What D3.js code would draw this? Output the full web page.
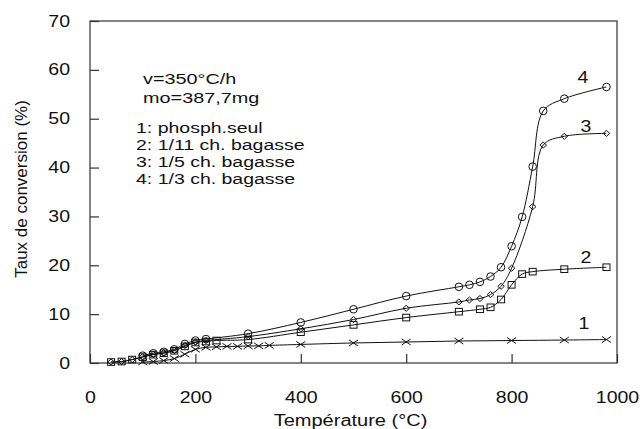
<!DOCTYPE html>
<html>
<head>
<meta charset="utf-8">
<script src="https://cdn.jsdelivr.net/npm/d3@7"></script>
<style>
  body { margin: 0; background: #fff; }
  svg text { font-family: "Liberation Sans", Arial, sans-serif; fill: #111; }
</style>
</head>
<body>
<svg id="chart" width="640" height="429"></svg>
<script>
// series 1: phosph. seul (crosses)
const t1 = [100, 120, 140, 160, 180, 200, 220, 240, 260, 280, 300, 320, 340, 400, 500, 600, 700, 800, 900, 980];
const y1 = [0.2, 0.3, 0.5, 0.9, 1.8, 2.8, 3.2, 3.3, 3.4, 3.4, 3.5, 3.5, 3.6, 3.8, 4.1, 4.3, 4.5, 4.6, 4.7, 4.8];
// series 2: 1/11 ch. bagasse (squares)
const t2 = [40, 60, 80, 100, 120, 140, 160, 180, 200, 220, 240, 300, 400, 500, 600, 700, 740, 760, 780, 800, 820, 840, 900, 980];
const y2 = [0.2, 0.3, 0.7, 1.2, 1.7, 2.0, 2.5, 3.4, 4.2, 4.4, 4.6, 4.8, 6.3, 7.8, 9.3, 10.5, 11.0, 11.4, 13.0, 16.0, 18.2, 18.7, 19.2, 19.6];
// series 3: 1/5 ch. bagasse (diamonds)
const t3 = [40, 60, 80, 100, 120, 140, 160, 180, 200, 220, 300, 400, 500, 600, 700, 720, 740, 760, 780, 800, 840, 860, 900, 980];
const y3 = [0.2, 0.3, 0.7, 1.3, 1.8, 2.1, 2.6, 3.6, 4.3, 4.6, 5.4, 7.0, 8.9, 11.2, 12.5, 12.9, 13.2, 14.0, 15.7, 19.4, 32.0, 44.6, 46.4, 47.0];
// series 4: 1/3 ch. bagasse (circles)
const t4 = [100, 120, 140, 160, 180, 200, 220, 300, 400, 500, 600, 700, 720, 740, 760, 780, 800, 820, 840, 860, 900, 980];
const y4 = [1.5, 2.0, 2.3, 2.8, 3.9, 4.6, 4.9, 6.0, 8.3, 11.0, 13.7, 15.6, 16.0, 16.6, 17.7, 19.6, 23.9, 29.9, 40.2, 51.6, 54.1, 56.5];

const xTicks = [0, 200, 400, 600, 800, 1000];
const yTicks = [0, 10, 20, 30, 40, 50, 60, 70];
const curveNames = ["1", "2", "3", "4"];
const noteLines = ["v=350°C/h", "mo=387,7mg"];
const legendLines = ["1: phosph.seul", "2: 1/11 ch. bagasse", "3: 1/5 ch. bagasse", "4: 1/3 ch. bagasse"];

const svg = d3.select("#chart");
const plotLeft = 90, plotRight = 617, plotTop = 21, plotBottom = 363;

const x = d3.scaleLinear().domain([0, 1000]).range([plotLeft, plotRight]);
const y = d3.scaleLinear().domain([0, 70]).range([plotBottom, plotTop]);

// the scanned text is wider than it is tall: widen it around its anchor
function stretch(sel, sx) {
  sel.each(function () {
    const t = d3.select(this);
    const tx = +t.attr("x") || 0, ty = +t.attr("y") || 0;
    t.attr("x", 0).attr("y", 0).attr("transform", `translate(${tx},${ty}) scale(${sx},1)`);
  });
}

const series = [
  { t: t1, v: y1, mark: "cross" },
  { t: t2, v: y2, mark: "square" },
  { t: t3, v: y3, mark: "diamond" },
  { t: t4, v: y4, mark: "circle" }
];

// frame
svg.append("rect")
  .attr("x", plotLeft).attr("y", plotTop)
  .attr("width", plotRight - plotLeft).attr("height", plotBottom - plotTop)
  .attr("fill", "none").attr("stroke", "#333").attr("stroke-width", 1.2);

// axes with inward ticks
const xAxis = svg.append("g")
  .attr("transform", `translate(0,${plotBottom})`)
  .call(d3.axisBottom(x).tickValues(xTicks).tickSize(-9).tickPadding(38).tickFormat(d3.format("d")));
const yAxis = svg.append("g")
  .attr("transform", `translate(${plotLeft},0)`)
  .call(d3.axisLeft(y).tickValues(yTicks).tickSize(-9).tickPadding(20).tickFormat(d3.format("d")));

[xAxis, yAxis].forEach(g => {
  g.select(".domain").remove();
  g.selectAll(".tick line").attr("stroke", "#333").attr("stroke-width", 1.2);
  g.selectAll(".tick text")
    .attr("font-family", "Liberation Sans, Arial, sans-serif")
    .attr("font-size", 16).attr("fill", "#111")
    .call(stretch, 1.22);
});
xAxis.selectAll(".tick text").attr("dy", "0.1em");

// axis titles
svg.append("text")
  .attr("x", (plotLeft + plotRight) / 2 - 3).attr("y", 426)
  .attr("text-anchor", "middle").attr("font-size", 16)
  .text("Température (°C)")
  .call(stretch, 1.25);
svg.append("text")
  .attr("transform", `translate(27,${(plotTop + plotBottom) / 2 - 3}) rotate(-90)`)
  .attr("text-anchor", "middle").attr("font-size", 17)
  .text("Taux de conversion (%)");

// curves
const line = d3.line()
  .x(d => x(d[0]))
  .y(d => y(d[1]))
  .curve(d3.curveCatmullRom.alpha(0.5));

series.forEach(s => {
  const pts = s.t.map((t, i) => [t, s.v[i]]);
  svg.append("path")
    .datum(pts)
    .attr("d", line)
    .attr("fill", "none")
    .attr("stroke", "#111")
    .attr("stroke-width", 1);

  const g = svg.append("g").attr("fill", "none").attr("stroke", "#111").attr("stroke-width", 1);
  pts.forEach(p => {
    const cx = x(p[0]), cy = y(p[1]);
    if (s.mark === "circle") {
      g.append("circle").attr("cx", cx).attr("cy", cy).attr("r", 3.8);
    } else if (s.mark === "square") {
      g.append("rect").attr("x", cx - 3.5).attr("y", cy - 3.3).attr("width", 7).attr("height", 6.6);
    } else if (s.mark === "diamond") {
      g.append("path").attr("d", `M${cx},${cy - 3}L${cx + 3.3},${cy}L${cx},${cy + 3}L${cx - 3.3},${cy}Z`);
    } else {
      g.append("path").attr("d", `M${cx - 4.5},${cy - 3}L${cx + 4.5},${cy + 3}M${cx - 4.5},${cy + 3}L${cx + 4.5},${cy - 3}`);
    }
  });
});

// curve number labels
const labelPos = [[584, 329], [586, 263], [586, 132], [583, 83]];
curveNames.forEach((n, i) => {
  svg.append("text")
    .attr("x", labelPos[i][0]).attr("y", labelPos[i][1])
    .attr("text-anchor", "middle").attr("font-size", 16)
    .text(n)
    .call(stretch, 1.22);
});

// notes
noteLines.forEach((s, i) => {
  svg.append("text")
    .attr("x", 143).attr("y", 84 + i * 18.5)
    .attr("font-size", 15.5)
    .text(s)
    .call(stretch, 1.28);
});
legendLines.forEach((s, i) => {
  svg.append("text")
    .attr("x", 136).attr("y", 132.5 + i * 17)
    .attr("font-size", 15)
    .text(s)
    .call(stretch, 1.3);
});
</script>
</body>
</html>
